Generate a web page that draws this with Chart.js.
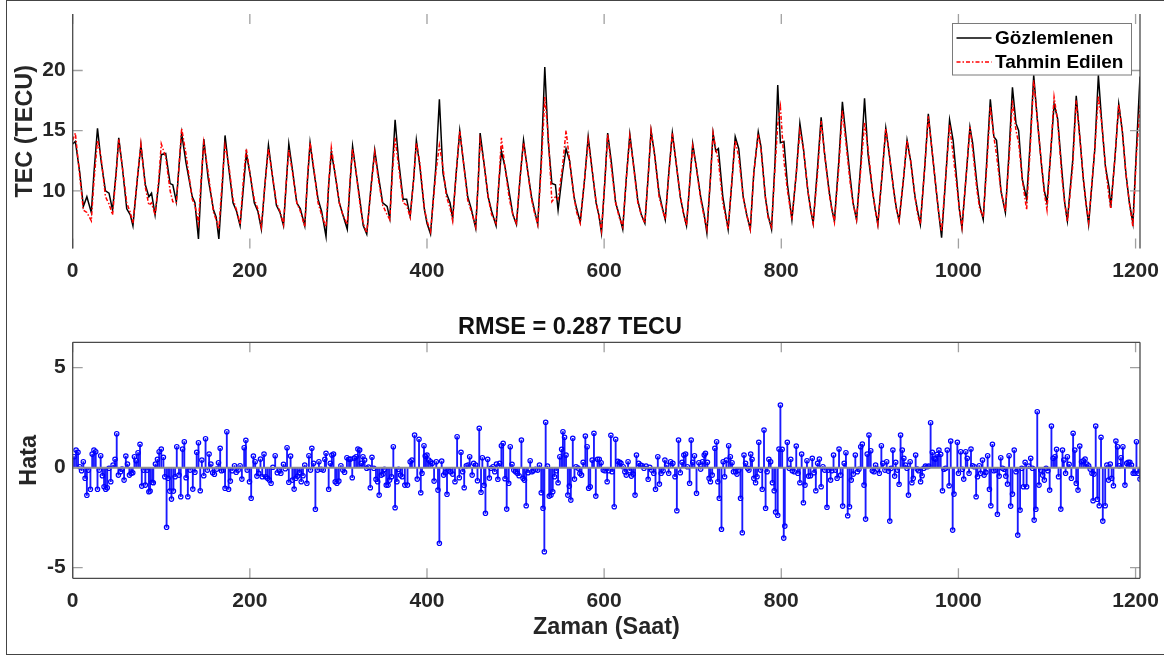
<!DOCTYPE html>
<html lang="tr">
<head>
<meta charset="UTF-8">
<title>TEC Gözlemlenen / Tahmin</title>
<script src="https://cdn.jsdelivr.net/npm/chart.js"></script>
<style>
  html, body { margin: 0; padding: 0; background: #fff; }
  body { width: 1164px; height: 657px; position: relative; overflow: hidden; }
  #cerceve { position: absolute; left: 6px; top: 0; width: 1170px; height: 653px; border: 1px solid #444; border-right: none; }
  .kutu { position: absolute; left: 0; width: 1164px; }
  #ustKutu { top: 0; height: 300px; }
  #altKutu { top: 300px; height: 357px; }
</style>
</head>
<body>
<div id="cerceve"></div>
<div class="kutu" id="ustKutu"><canvas id="ust"></canvas></div>
<div class="kutu" id="altKutu"><canvas id="alt"></canvas></div>

<script>
// saat ekseni (saat), gozlemlenen ve tahmin edilen TEC (TECU)
const saat = [
  0,3,8,12,16,21, 24,28,32,37,41,45, 49,52,56,61,65,68,
  73,77,82,86,89,93, 97,100,105,110,113,117, 120,123,128,135,138,142,
  145,148,153,159,162,165, 169,172,176,181,185,189, 193,196,200,205,209,213,
  217,221,225,230,234,238, 241,244,248,253,257,262, 265,268,272,277,281,286,
  289,292,296,301,305,310, 313,316,320,325,328,332, 337,341,345,350,355,358,
  361,364,368,373,377,381, 385,388,392,397,400,404, 410,414,418,422,426,429,
  433,437,441,446,450,455, 458,460,464,469,473,478, 481,484,488,493,497,501,
  505,509,513,518,521,525, 529,533,537,541,545,548, 553,557,561,566,569,573,
  578,582,586,591,594,597, 601,604,608,613,617,621, 625,629,633,638,642,646,
  650,653,657,662,666,669, 673,677,681,686,690,693, 697,700,704,709,713,716,
  720,723,726,729,734,740, 745,748,752,757,761,765, 769,774,777,782,785,789,
  793,796,799,803,807,812, 817,821,825,830,833,836, 841,845,849,854,857,860,
  865,869,873,878,881,885, 890,894,898,903,906,909, 914,918,922,927,930,933,
  938,942,946,951,954,957, 962,966,970,975,978,981, 986,990,994,998,1001,1004,
  1009,1013,1016,1021,1024,1028, 1032,1036,1040,1043,1048,1053, 1057,1061,1065,1068,1072,1077,
  1081,1085,1089,1094,1097,1100, 1104,1108,1112,1117,1120,1123, 1129,1133,1137,1141,1144,1147,
  1154,1158,1162,1166,1170,1172, 1177,1181,1185,1189,1193,1197, 1201,1205
];
const gozlemlenen = [
  13.9,14.1,11.5,8.7,9.5,8.2, 11.5,15.2,12.5,10.0,9.8,8.4, 11.5,14.4,12.0,8.5,8.0,7.1,
  11.0,13.8,10.5,9.5,9.8,8.0, 10.5,13.0,13.1,10.6,10.5,9.1, 12.0,14.8,12.3,9.5,9.0,6.0,
  10.5,14.3,11.0,8.4,7.8,6.0, 10.5,14.6,12.0,9.0,8.3,7.1, 10.5,13.1,11.5,9.0,8.3,6.8,
  10.5,13.8,11.5,8.8,8.2,7.1, 10.5,13.9,11.8,9.0,8.5,7.1, 10.8,14.0,11.8,9.3,8.3,6.2,
  10.5,13.2,11.5,9.0,8.0,6.8, 10.5,13.7,11.5,8.8,7.1,6.4, 10.5,13.4,11.3,9.0,8.7,7.7,
  12.0,15.9,12.5,9.3,9.3,7.9, 11.0,14.2,12.0,8.5,7.3,6.4, 12.0,17.6,11.5,9.8,9.0,7.7,
  11.5,15.0,12.5,9.5,8.5,6.9, 11.0,14.8,12.5,9.5,8.3,7.1, 10.5,13.3,12.0,9.8,8.0,7.2,
  11.0,14.2,12.0,9.5,8.5,7.2, 12.5,20.3,14.0,10.6,10.5,8.4, 11.5,13.5,12.5,9.5,8.5,7.4,
  11.0,14.5,12.0,9.0,8.0,6.5, 11.0,14.8,12.5,9.0,8.0,6.8, 11.0,14.7,12.3,9.2,8.0,7.3,
  11.5,15.0,13.0,9.8,8.5,7.6, 11.5,14.8,12.5,9.5,8.0,7.1, 11.0,13.9,12.0,9.5,8.0,6.5,
  11.0,14.8,13.3,13.5,9.5,6.8, 11.5,14.5,13.5,9.5,8.0,6.8, 11.5,14.9,13.7,9.5,8.0,6.8,
  12.5,18.8,14.0,14.1,10.5,7.6, 11.5,15.6,13.5,10.0,8.5,7.3, 12.0,16.1,13.0,10.0,8.5,7.5,
  12.5,17.4,14.5,11.0,9.0,7.6, 12.5,17.7,13.0,10.0,8.5,7.2, 11.5,15.2,13.0,10.0,8.5,7.5,
  11.0,14.2,12.5,9.5,8.3,7.2, 12.0,16.4,13.5,10.0,8.0,6.1, 11.5,15.9,14.2,11.0,8.5,6.9,
  11.5,15.3,14.0,10.5,8.8,7.6, 12.5,17.6,14.5,14.2,10.0,8.2, 13.0,18.6,15.6,15.0,11.0,9.3,
  14.0,19.6,16.0,12.0,10.0,9.0, 13.0,17.2,16.0,11.5,9.0,7.5, 12.5,17.9,14.5,11.0,9.0,7.2,
  13.5,19.6,15.5,12.0,10.3,8.6, 13.0,17.2,15.0,11.5,9.0,7.3, 13.5,19.5
];
const tahmin = [
  14.2,14.8,11.2,8.4,8.2,7.5, 10.8,14.2,12.8,9.5,8.9,8.0, 11.3,14.3,12.0,9.0,8.2,7.3,
  11.0,13.9,10.3,8.8,9.0,8.0, 10.8,13.9,12.8,10.0,9.1,9.0, 12.0,15.2,13.0,9.3,8.8,7.3,
  11.0,14.0,11.5,8.2,7.6,6.8, 11.0,13.8,12.3,9.3,8.4,7.2, 11.2,13.5,11.5,9.3,8.5,7.0,
  10.5,13.5,11.5,9.0,8.3,7.2, 10.6,13.4,11.6,9.0,8.3,7.0, 11.0,14.0,12.0,9.0,8.0,7.0,
  10.5,13.6,11.6,9.0,8.0,7.2, 10.7,13.5,11.5,8.5,7.3,6.5, 10.3,13.2,11.0,8.8,8.0,7.6,
  11.5,14.4,12.0,9.0,8.8,7.8, 11.0,14.0,12.3,8.5,7.5,6.6, 11.5,13.8,12.0,9.5,8.6,7.5,
  11.5,15.0,12.5,9.2,8.3,7.0, 11.0,14.2,12.5,9.5,8.0,7.3, 10.5,14.4,12.0,9.3,8.0,7.3,
  11.0,14.0,12.0,9.3,8.3,7.2, 12.0,17.8,14.5,9.1,9.5,9.3, 12.0,15.0,12.5,9.5,8.2,7.3,
  11.0,14.2,12.0,9.0,8.0,6.7, 11.0,14.7,12.0,9.0,7.8,7.0, 11.0,14.5,12.2,9.0,8.0,7.3,
  11.5,15.0,13.0,9.5,8.4,7.6, 11.3,14.8,12.5,9.5,8.0,7.1, 11.0,13.7,12.0,9.3,7.8,6.8,
  11.0,14.8,13.5,12.5,9.0,6.8, 11.5,14.2,12.8,9.5,8.0,6.8, 11.5,14.7,13.5,9.5,7.8,7.0,
  12.0,15.5,17.0,12.5,10.0,7.6, 11.5,15.0,13.5,10.0,8.5,7.3, 11.5,15.8,13.0,9.8,8.5,7.4,
  12.0,16.7,14.0,10.5,9.0,7.6, 12.0,15.7,13.5,10.0,8.5,7.2, 11.5,15.2,13.0,10.0,8.5,7.5,
  11.0,14.2,12.5,9.5,8.0,7.2, 12.0,16.2,13.5,10.0,8.0,6.6, 11.5,15.5,13.0,10.5,8.5,7.0,
  11.5,15.3,13.5,10.0,8.5,7.8, 12.0,17.0,14.5,13.0,10.0,8.3, 12.5,17.5,15.0,14.0,11.0,8.4,
  13.5,19.2,16.0,12.0,9.8,8.4, 13.0,17.8,15.8,11.0,9.0,7.4, 12.0,17.5,14.5,11.0,9.0,7.4,
  13.5,17.9,15.5,12.0,9.5,8.5, 13.0,17.2,15.0,11.5,9.0,7.0, 13.0,17.1
];

// hata (stem) degerleri: saat ve hata (TECU)
const hataSaat = [
  1.5,3.8,6,8,10,12,14,16,17.7,20,
  22,24,26,28,30,31.6,33.5,35.4,37.3,39,
  41,43,45.6,47.8,49.7,51.6,54,55.7,58,60,
  61.8,64,66,67.8,69.7,71.6,73.8,76,78,80,
  82,84,86,87.4,89.6,91,93.4,95.7,97.6,100,
  102.4,104,106,107.7,109.6,111.5,113.7,115.6,117.5,120,
  122,124,126,128,130,132.6,135.6,138,140,142,
  144,145.8,148,150,152,154,156,158,160,162.7,
  164.6,166.5,168,170,172,174,176,178,180,182.7,
  184.6,186.8,189,191,193.6,195.5,197,199.6,201.5,204,
  206,208,210,212,214,216,218,220,222,224,
  226,228.6,231,233.5,235,238,240,242,244,246,
  248,250,252,254,256,258,260,262,264.4,266.7,
  268.5,270,272,274,276.5,278,280.6,282.9,284.7,286,
  289,290.8,292.6,294.5,296.4,298.3,300.5,302.8,305,307,
  309.6,312,313.7,315.6,318,320,322,324,325.8,327.7,
  329.6,332,334,336,337.9,340,342.4,344.3,346,348.4,
  350.3,352,354,356,357.8,360,362,364,366,368,
  370,372,375,378,381,383,386,389,391,393,
  394.4,396.6,398,400,402,404,406,408,410.5,412.4,
  414,416.6,418.8,420.7,422.6,424.5,426.3,429,431.6,434,
  436.5,438.4,440.3,442,444.4,446.4,448.2,451,452.7,455,
  457,459,461,462.5,464.4,466,468.5,470.4,472.3,474.6,
  476.5,478.4,480,482,484,486,488.1,490,492.3,494,
  496,498,500,502,504,506.6,508.5,510,512,514,
  516.5,518.4,520,522.7,525,527,529,531,532.5,534,
  536,538,540,542,544,546,548,550,552,553.5,
  555.3,557,559,560.7,562.4,564.6,566.5,568.3,570.5,572.6,
  574.5,576.3,578.8,580.8,582.5,584.3,586.5,588.5,590.6,592.5,
  594.5,596.6,599,601,603.4,605,607.6,609,611.4,613,
  615.4,617.6,619,621.5,623.4,625,627,629,630.7,632.8,
  634.9,636.5,639,641.3,643,645,647.4,649.7,651.5,653.6,
  656,658,660.6,662.4,664.4,666.6,668.6,670.6,672.9,675,
  677.6,680,682.1,684,686,688,690,692,694,696.5,
  698.3,700,702,704.3,707,709,711,713,714.4,716.6,
  718.5,720,722,725,727,728.4,730,732.5,734.4,736,
  738,740.6,742.5,744.4,746,748.5,750,752,754,756,
  757.9,759.7,762,763.5,765.5,767,769,771,772.6,774.6,
  776.6,778.5,780.5,782.3,784,786,788,790,792,793.6,
  796,797.4,799,801,802.8,804,806.8,809,810.7,812.4,
  814.7,816.9,818.8,821,823,825,826.8,829,830.8,833,
  835,837,839,841,843,845,847,849,851.6,853,
  855.7,857,859,861,863,865.2,867,869.3,871,873,
  875,877,879,881.3,883.6,885.9,887.7,889.7,891.5,893.4,
  895.2,897,899,901,902.8,904.7,906.5,908.5,910.7,913,
  914.7,917,919,921,922.5,924,926,928,929.2,931,
  933,934.7,936.6,938.4,940.3,941.9,943.6,945.5,947.5,949,
  951.7,953.5,955,957.3,959,960.9,962.8,964.7,966.5,968.6,
  970.5,972.4,974,976,978,980,982,983.7,985.6,987.4,
  989.5,991.3,993.5,995,998.8,1000,1002.6,1004.5,1006,1008.3,
  1010,1012,1014.2,1016,1017.9,1020,1021.5,1023.5,1025,1027.2,
  1029,1031,1033,1035,1036.6,1038.4,1040,1042,1044,1046,
  1047.8,1049.7,1051.6,1053.5,1055.4,1057.2,1059,1061,1063,1065,
  1067,1069.6,1071.5,1073.4,1075.3,1077,1079.4,1081.6,1083.6,1085.5,
  1087.4,1089,1091,1093,1095,1097,1099,1101,1103,1105,
  1107,1109,1110.8,1113,1115.6,1117.5,1119,1121,1123,1125,
  1127.5,1129.5,1131.4,1133,1135,1137,1139,1141,1143,1145,
  1147,1148.8,1150.8,1152,1153,1155,1156.8,1159,1161,1163,
  1165.7,1167.6,1169.5,1171.4,1173,1175,1177.8,1179.7,1181.6,1183.5,
  1185.7,1188,1190,1191.7,1193.6,1195.4,1197.3,1199.3,1201,1203,
  1205
];
const hata = [
  .55,.88,.77,.05,-.15,.3,-.53,-1.38,-.12,-1.08,
  .68,.88,.8,-1.08,-.12,.6,-.4,-.95,-1.08,-1.0,
  -.03,-.7,.13,.42,1.7,-.37,-.2,-.07,-.62,.58,
  .18,-.37,-.28,-.25,.55,.35,.75,1.17,-.92,-.12,
  -.87,-.12,-1.2,-1.17,-.73,-.75,.18,.42,.8,.93,
  .52,-.45,-2.98,-.53,-1.17,-1.57,-1.17,-.45,1.05,-.37,
  -1.45,.93,1.3,-.5,-1.45,-.12,-1.07,-.23,.77,1.25,
  -1.15,.38,-.4,1.45,-.12,.68,.18,-.25,-.33,-.07,
  .25,.97,-.15,-.12,-1.03,1.8,-1.08,-.67,-.15,.1,
  -.23,-.12,.1,-.57,1.0,1.37,-.12,-.7,-1.53,.58,
  .3,-.42,-.28,.43,-.45,.68,-.45,-.53,-.62,-.78,
  .02,.6,-.25,-.12,-.28,.17,-.05,1.0,-.73,.58,
  -.62,-1.07,-.53,-.42,-.25,-.7,-.4,.13,-.78,.6,
  -.12,.97,.22,-2.08,-.12,.3,-.08,-.12,.42,.72,
  -1.08,.22,.63,.68,-.7,-.78,-.67,.1,-.12,-.23,
  .5,.42,.43,-.5,.48,.55,.93,.88,.22,.55,
  .38,-.03,.03,-1.0,.52,-.03,-.58,-.7,-1.37,-.37,
  -.32,-.08,-.87,-.87,-.62,-.45,1.05,-2.0,-.7,-.08,
  -.37,-.45,-.87,-.87,.3,.38,1.63,-.57,1.42,-1.25,
  -.28,1.1,.58,.63,.38,.3,.22,-.67,.3,-1.12,
  -3.78,.33,-.37,-.25,-1.33,-.12,-.2,-.32,-.7,1.55,
  -.5,.77,-.2,-1.0,.1,.13,.55,-.37,.22,.13,
  -.65,1.97,-1.23,.5,-.88,-2.28,.42,-.52,-.03,.05,
  -.2,.18,-.58,.22,1.1,1.22,-.55,-2.07,-.78,1.05,
  .17,-.12,-.2,-.28,-.4,1.38,-.53,-.62,-1.9,-.25,
  .35,-.2,-.15,-.08,-.12,.13,-1.25,-2.03,-4.2,2.27,
  .08,-1.42,-1.37,-1.2,-.45,-.15,-.75,.55,.92,1.8,
  1.52,.63,-1.37,-.92,-1.62,1.47,-.57,.05,-.02,-.28,
  -.37,.27,1.58,1.05,-1.03,-.95,.38,1.72,-1.42,.42,
  .42,.25,-.12,-.15,-.7,-.15,1.62,-.2,-1.95,1.42,
  .32,.27,.22,.05,-.2,-.37,.3,-.15,-.42,-.32,
  -1.37,.63,.22,.13,.1,-.03,.08,-.58,.02,-.12,
  -.28,-1.08,.55,-.82,-.28,-.15,.38,.13,-.28,.3,
  .22,-.45,-2.15,1.38,-.25,.27,.63,.68,.05,-.78,
  1.38,.27,.6,-1.28,.25,-.07,.3,.63,.72,.27,
  -.53,-.7,-.37,.97,1.3,-.7,-1.53,-3.08,.3,-.45,
  .38,1.1,.55,.25,-.2,-.2,-.32,-.12,-1.53,-3.25,
  .63,.22,-.03,-.12,.68,.42,-.53,-.75,-.45,1.27,
  -.12,-1.08,1.88,-2.03,-.2,.42,.3,-.75,-1.15,-2.22,
  -2.38,.93,3.13,.92,-3.52,-2.92,1.27,-.03,.42,-.15,
  -.2,1.08,-.28,-.75,.68,-1.75,-.87,.35,-.42,-.4,
  .47,-.25,-1.15,.22,.43,-.95,.05,-.12,-1.98,-.12,
  -.62,-.15,.63,-.12,-.53,.93,-.37,-1.92,.22,.75,
  -2.4,-1.95,-.62,-.32,.63,-.2,-.08,1.05,1.18,-.87,
  -2.57,.68,1.63,.85,-.15,-.2,.13,-.07,-.28,1.1,
  .22,-.12,.3,-.17,-2.67,-.03,.88,-.42,.27,-.12,
  -.83,1.63,.88,.47,.13,-.03,-1.37,.3,-.75,-.53,
  .63,-.07,-.15,-.7,-.4,-.03,.08,.05,.08,2.25,
  .77,.47,.43,.67,.88,.67,-1.15,-.08,-.03,.88,
  -.9,1.33,-3.12,-1.32,1.27,-.28,.8,-.08,-.57,.8,
  .47,-.28,.93,.1,.05,-1.45,-.45,.1,-.28,.38,
  -.37,-.23,.6,-1.08,-1.9,1.17,-.15,-.12,-2.33,-.42,
  .5,-.03,-.08,-.42,-.82,.6,-1.92,-1.32,.88,-.2,
  -3.37,-2.12,-.03,-.95,.27,-.95,.08,.47,-.03,-2.62,
  -2.08,2.8,-.87,-.12,-.37,-.62,-.03,-.15,-1.12,2.08,
  .47,.55,.92,-.45,-2.07,.88,.38,-.28,.55,.17,
  -.53,1.72,.88,-.78,-1.12,1.08,.3,.35,.43,.18,
  .1,-.07,-.28,-1.65,-.32,2.08,-1.58,-1.9,1.52,-2.67,
  -1.9,.13,-.62,.18,-.53,-.9,1.33,1.05,.1,.5,
  1.05,-.87,.22,.27,.27,.13,-.28,-.28,1.3,-.28,
  -.57
];

const xTikleri = [0, 200, 400, 600, 800, 1000, 1200];
const tecTikleri = [10, 15, 20];
const hataTikleri = [-5, 0, 5];

Chart.defaults.font.family = "'Liberation Sans', Arial, sans-serif";
Chart.defaults.color = '#262626';

const yaziRengi = '#262626';
const tikFont = { size: 21, weight: 'bold' };
const etiketFont = { size: 23.4, weight: 'bold' };

function sabitTikler(liste) {
  return s => { s.ticks = liste.map(v => ({ value: v })); };
}

// eksen cizgileri ve iceri bakan tik isaretleri (matlab gibi)
function cerceveEklentisi(tamKutu) {
  return {
    id: 'cerceve',
    afterDraw(chart) {
      const { ctx, chartArea: a, scales: { x, y } } = chart;
      ctx.save();
      ctx.lineWidth = 1.3;
      ctx.strokeStyle = '#a0a0a0';
      ctx.beginPath();
      x.ticks.forEach(t => {
        const px = x.getPixelForValue(t.value);
        ctx.moveTo(px, a.bottom); ctx.lineTo(px, a.bottom - 10);
        ctx.moveTo(px, a.top); ctx.lineTo(px, a.top + 10);
      });
      y.ticks.forEach(t => {
        const py = y.getPixelForValue(t.value);
        ctx.moveTo(a.left, py); ctx.lineTo(a.left + 10, py);
        ctx.moveTo(a.right, py); ctx.lineTo(a.right - 10, py);
      });
      ctx.stroke();
      ctx.strokeStyle = '#4a4a4a';
      ctx.beginPath();
      ctx.moveTo(a.left, a.top); ctx.lineTo(a.left, a.bottom);
      ctx.moveTo(a.right, a.top); ctx.lineTo(a.right, a.bottom);
      if (tamKutu) {
        ctx.moveTo(a.left, a.top); ctx.lineTo(a.right, a.top);
        ctx.moveTo(a.left, a.bottom); ctx.lineTo(a.right, a.bottom);
      }
      ctx.stroke();
      ctx.restore();
    }
  };
}

// grafik icindeki aciklama kutusu
const aciklama = {
  id: 'aciklama',
  afterDraw(chart) {
    const { ctx, chartArea: a } = chart;
    const sag = a.right - 8.5, ust = a.top + 9.5, gen = 179, yuk = 51.5;
    const sol = sag - gen;
    ctx.save();
    ctx.fillStyle = '#fff';
    ctx.fillRect(sol, ust, gen, yuk);
    ctx.strokeStyle = '#7a7a7a';
    ctx.lineWidth = 1;
    ctx.strokeRect(sol, ust, gen, yuk);
    const satirlar = [
      { metin: 'Gözlemlenen', renk: '#000', kesik: [], y: ust + 14.5 },
      { metin: 'Tahmin Edilen', renk: '#ff0000', kesik: [4, 2, 1.5, 2], y: ust + 38.5 }
    ];
    ctx.font = "bold 19px 'Liberation Sans', Arial, sans-serif";
    ctx.textBaseline = 'middle';
    satirlar.forEach(s => {
      ctx.beginPath();
      ctx.setLineDash(s.kesik);
      ctx.strokeStyle = s.renk;
      ctx.lineWidth = 1.5;
      ctx.moveTo(sol + 4, s.y);
      ctx.lineTo(sol + 39, s.y);
      ctx.stroke();
      ctx.setLineDash([]);
      ctx.fillStyle = '#000';
      ctx.fillText(s.metin, sol + 42.5, s.y + 1);
    });
    ctx.restore();
  }
};

// stem taban cizgisi (y = 0)
const tabanCizgisi = {
  id: 'taban',
  afterDatasetsDraw(chart) {
    const { ctx, chartArea: a, scales: { y } } = chart;
    const y0 = y.getPixelForValue(0);
    ctx.save();
    ctx.strokeStyle = '#8f8f8f';
    ctx.lineWidth = 2;
    ctx.beginPath();
    ctx.moveTo(a.left, y0);
    ctx.lineTo(a.right, y0);
    ctx.stroke();
    ctx.restore();
  }
};

function xEkseni(yukseklik, baslik) {
  return {
    type: 'linear', min: 0, max: 1205, offset: false,
    afterBuildTicks: sabitTikler(xTikleri),
    afterFit: s => { s.height = yukseklik; s.paddingLeft = 0; s.paddingRight = 0; },
    grid: { display: false, drawTicks: false },
    border: { display: false },
    ticks: { font: tikFont, color: yaziRengi, padding: 10, maxRotation: 0, autoSkip: false, callback: v => String(v) },
    title: baslik ? { display: true, text: baslik, font: etiketFont, color: yaziRengi, padding: { top: 0, bottom: 15 } } : { display: false }
  };
}

function yEkseni(min, max, tikler, baslik, solBosluk) {
  return {
    type: 'linear', min: min, max: max,
    afterBuildTicks: sabitTikler(tikler),
    afterFit: s => { s.width = 72.7; s.paddingTop = 0; s.paddingBottom = 0; },
    grid: { display: false, drawTicks: false },
    border: { display: false },
    ticks: { font: tikFont, color: yaziRengi, padding: 7, autoSkip: false, callback: v => String(v) },
    title: { display: true, text: baslik, font: etiketFont, color: yaziRengi, padding: { top: solBosluk, bottom: 0 } }
  };
}

new Chart(document.getElementById('ust'), {
  type: 'line',
  data: {
    datasets: [
      {
        label: 'Gözlemlenen',
        data: saat.map((s, i) => ({ x: s, y: gozlemlenen[i] })),
        borderColor: '#000', borderWidth: 1.5, pointRadius: 0, tension: 0, order: 2
      },
      {
        label: 'Tahmin Edilen',
        data: saat.map((s, i) => ({ x: s, y: tahmin[i] })),
        borderColor: '#ff0000', borderWidth: 1.5, borderDash: [4, 2, 1.5, 2],
        pointRadius: 0, tension: 0, order: 1
      }
    ]
  },
  options: {
    responsive: true, maintainAspectRatio: false, animation: false,
    layout: { padding: { left: 0, right: 24, top: 14, bottom: 0 } },
    plugins: { legend: { display: false }, tooltip: { enabled: false } },
    scales: {
      x: xEkseni(51.5, null),
      y: yEkseni(5.2, 24.7, tecTikleri, 'TEC (TECU)', 11.7)
    }
  },
  plugins: [cerceveEklentisi(false), aciklama]
});

const hataNoktalari = hataSaat.map((s, i) => ({ x: s, y: hata[i] }));

new Chart(document.getElementById('alt'), {
  type: 'scatter',
  data: {
    datasets: [
      {
        type: 'scatter',
        data: hataNoktalari,
        pointRadius: 2.2, pointBorderWidth: 1.2,
        pointBorderColor: '#0000ff', pointBackgroundColor: 'rgba(255,255,255,0)',
        order: 1
      },
      {
        type: 'bar',
        data: hataNoktalari,
        backgroundColor: '#1a1aff', borderWidth: 0, barThickness: 1.2,
        order: 2
      }
    ]
  },
  options: {
    responsive: true, maintainAspectRatio: false, animation: false,
    layout: { padding: { left: 0, right: 24, top: 0, bottom: 0 } },
    plugins: {
      legend: { display: false }, tooltip: { enabled: false },
      title: {
        display: true, text: 'RMSE = 0.287 TECU',
        font: { size: 23.5, weight: 'bold' }, color: '#111',
        padding: { top: 13.6, bottom: 0.5 }
      }
    },
    scales: {
      x: xEkseni(78.7, 'Zaman (Saat)'),
      y: yEkseni(-5.53, 6.27, hataTikleri, 'Hata', 15.5)
    }
  },
  plugins: [cerceveEklentisi(true), tabanCizgisi]
});
</script>
</body>
</html>
